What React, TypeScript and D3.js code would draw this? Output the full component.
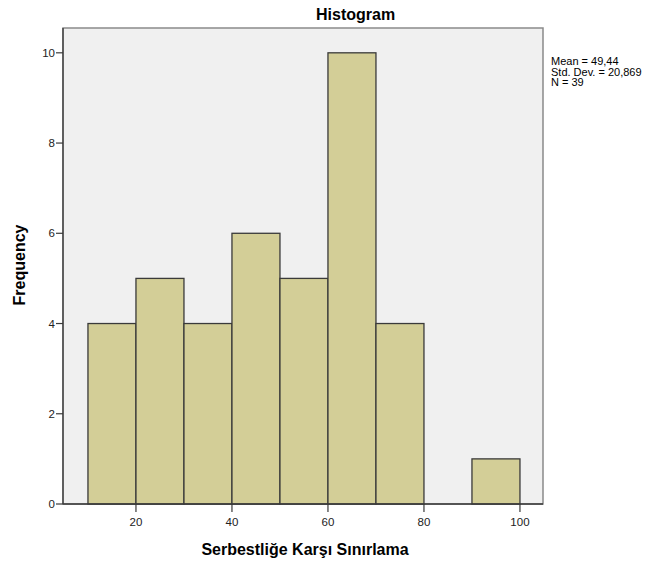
import React from "react";
import * as d3 from "d3";

const binStarts = [10, 20, 30, 40, 50, 60, 70, 80, 90];
const binWidth = 10;
const counts = [4, 5, 4, 6, 5, 10, 4, 0, 1];
const xTicks = [20, 40, 60, 80, 100];
const yTicks = [0, 2, 4, 6, 8, 10];
const statsLines = ["Mean = 49,44", "Std. Dev. = 20,869", "N = 39"];

const W = 654;
const H = 563;
const left = 63;
const right = 543;
const top = 28;
const bottom = 504;

export default function App() {
  const x = d3.scaleLinear().domain([4.8, 104.8]).range([left, right]);
  const y = d3.scaleLinear().domain([0, 10.55]).range([bottom, top]);
  const font = "'Liberation Sans', Arial, sans-serif";
  return (
    <svg
      width={W}
      height={H}
      style={{ position: "absolute", left: 0, top: 0, background: "#fff" }}
      fontFamily={font}
    >
      <rect x={0} y={0} width={W} height={H} fill="#fff" />
      <text x={316} y={20} textAnchor="start" fontSize={16} fontWeight="bold" fill="#000">
        Histogram
      </text>
      <rect x={left} y={top} width={right - left} height={bottom - top} fill="#f0f0f0" stroke="#8a8a8a" strokeWidth={1.5} />
      {binStarts.map((s, i) =>
        counts[i] > 0 ? (
          <rect
            key={i}
            x={x(s)}
            y={y(counts[i])}
            width={x(s + binWidth) - x(s)}
            height={y(0) - y(counts[i])}
            fill="#d3ce97"
            stroke="#3a3a3a"
            strokeWidth={1.3}
          />
        ) : null
      )}
      <line x1={left} x2={right} y1={bottom} y2={bottom} stroke="#3a3a3a" strokeWidth={1.3} />
      <line x1={left} x2={left} y1={top} y2={bottom} stroke="#3a3a3a" strokeWidth={1.3} />
      {yTicks.map((t) => (
        <g key={t}>
          <line x1={left - 7} x2={left} y1={y(t)} y2={y(t)} stroke="#3a3a3a" strokeWidth={1.2} />
          <text x={left - 8} y={y(t) + 4} textAnchor="end" fontSize={11.5} fill="#222">
            {t}
          </text>
        </g>
      ))}
      {xTicks.map((t) => (
        <g key={t}>
          <line x1={x(t)} x2={x(t)} y1={bottom} y2={bottom + 8} stroke="#3a3a3a" strokeWidth={1.2} />
          <text x={x(t)} y={bottom + 22} textAnchor="middle" fontSize={11.5} fill="#222">
            {t}
          </text>
        </g>
      ))}
      <text x={(left + right) / 2 + 2} y={555} textAnchor="middle" fontSize={16} fontWeight="bold" fill="#000">
        Serbestliğe Karşı Sınırlama
      </text>
      <text
        transform={`translate(25,${(top + bottom) / 2 - 1}) rotate(-90)`}
        textAnchor="middle"
        fontSize={16}
        fontWeight="bold"
        fill="#000"
      >
        Frequency
      </text>
      {statsLines.map((s, i) => (
        <text key={i} x={551} y={65 + i * 10.5} fontSize={11} fill="#000">
          {s}
        </text>
      ))}
    </svg>
  );
}
